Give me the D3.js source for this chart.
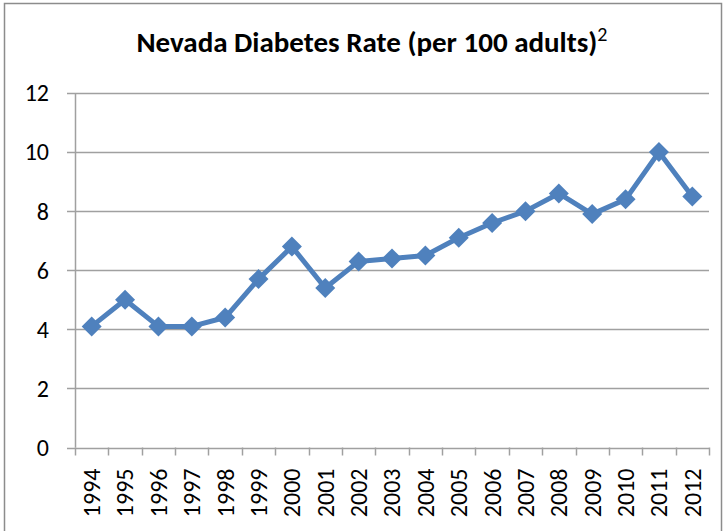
<!DOCTYPE html>
<html>
<head>
<meta charset="utf-8">
<script src="https://cdn.jsdelivr.net/npm/d3@7"></script>
<style>
	body { margin: 0; background: #fff; }
	svg { display: block; }
</style>
</head>
<body>
<div id="chart"></div>
<script>
// data
var years = ["1994","1995","1996","1997","1998","1999","2000","2001","2002","2003",
	"2004","2005","2006","2007","2008","2009","2010","2011","2012"];
var rates = [4.1, 5.0, 4.1, 4.1, 4.4, 5.7, 6.8, 5.4, 6.3, 6.4,
	6.5, 7.1, 7.6, 8.0, 8.6, 7.9, 8.4, 10.0, 8.5];
var yTicks = [0, 2, 4, 6, 8, 10, 12];
var titleText = "Nevada Diabetes Rate (per 100 adults)";
var titleSup = "2";

var width = 727, height = 531;
var margin = {top: 93, right: 18, bottom: 83, left: 75};
var blue = "#4f81bd", gridColor = "#a0a0a0";
var tickFont = "Carlito, Calibri, 'Open Sans', sans-serif";

var svg = d3.select("#chart").append("svg")
	.attr("width", width)
	.attr("height", height);

// outer frame
svg.append("rect")
	.attr("x", 4.5).attr("y", 3.5)
	.attr("width", 717).attr("height", 540)
	.attr("fill", "none")
	.attr("stroke", "#8c8c8c")
	.attr("stroke-width", 1.5);

// title
var title = svg.append("text")
	.attr("x", 372).attr("y", 52)
	.attr("text-anchor", "middle")
	.style("font-family", tickFont)
	.style("font-size", "29px")
	.style("font-weight", "bold");
title.append("tspan").text(titleText);
title.append("tspan")
	.attr("dy", -11)
	.style("font-size", "20px")
	.style("font-weight", "normal")
	.text(titleSup);

var xScale = d3.scaleBand()
	.domain(years)
	.range([margin.left, width - margin.right]);

var yScale = d3.scaleLinear()
	.domain([0, 12])
	.range([height - margin.bottom - 0.5, margin.top]);

// gridlines
svg.append("g").selectAll("line")
	.data(yTicks)
	.enter().append("line")
	.attr("x1", margin.left - 8)
	.attr("x2", width - margin.right)
	.attr("y1", function(d){ return Math.round(yScale(d)) + 0.5; })
	.attr("y2", function(d){ return Math.round(yScale(d)) + 0.5; })
	.attr("stroke", gridColor)
	.attr("stroke-width", 1.5);

// y axis line
svg.append("line")
	.attr("x1", margin.left + 0.5).attr("x2", margin.left + 0.5)
	.attr("y1", yScale(12)).attr("y2", yScale(0))
	.attr("stroke", gridColor)
	.attr("stroke-width", 1.5);

// y labels
svg.append("g").selectAll("text")
	.data(yTicks)
	.enter().append("text")
	.attr("x", 49)
	.attr("y", function(d){ return yScale(d); })
	.attr("dy", "0.35em")
	.attr("text-anchor", "end")
	.style("font-family", tickFont)
	.style("font-size", "24px")
	.text(function(d){ return d; });

// x axis ticks
var tickPos = years.map(function(y){ return xScale(y); }).concat([xScale.range()[1]]);
svg.append("g").selectAll("line")
	.data(tickPos)
	.enter().append("line")
	.attr("x1", function(d){ return Math.round(d) + 0.5; })
	.attr("x2", function(d){ return Math.round(d) + 0.5; })
	.attr("y1", yScale(0))
	.attr("y2", yScale(0) + 8)
	.attr("stroke", gridColor)
	.attr("stroke-width", 1.5);

// x labels
svg.append("g").selectAll("text")
	.data(years)
	.enter().append("text")
	.attr("transform", function(d){
		return "translate(" + (xScale(d) + xScale.bandwidth() / 2) + "," + (yScale(0) + 21) + ") rotate(-90)";
	})
	.attr("dy", "0.35em")
	.attr("text-anchor", "end")
	.style("font-family", tickFont)
	.style("font-size", "24px")
	.text(function(d){ return d; });

// line
var line = d3.line()
	.x(function(d, i){ return xScale(years[i]) + xScale.bandwidth() / 2; })
	.y(function(d){ return yScale(d); });

svg.append("path")
	.datum(rates)
	.attr("d", line)
	.attr("fill", "none")
	.attr("stroke", blue)
	.attr("stroke-width", 5)
	.attr("stroke-linejoin", "round");

// diamond markers
var diamond = d3.symbol().type(d3.symbolSquare).size(200);
svg.append("g").selectAll("path")
	.data(rates)
	.enter().append("path")
	.attr("d", diamond)
	.attr("transform", function(d, i){
		return "translate(" + (xScale(years[i]) + xScale.bandwidth() / 2) + "," + yScale(d) + ") rotate(45)";
	})
	.attr("fill", blue);
</script>
</body>
</html>
